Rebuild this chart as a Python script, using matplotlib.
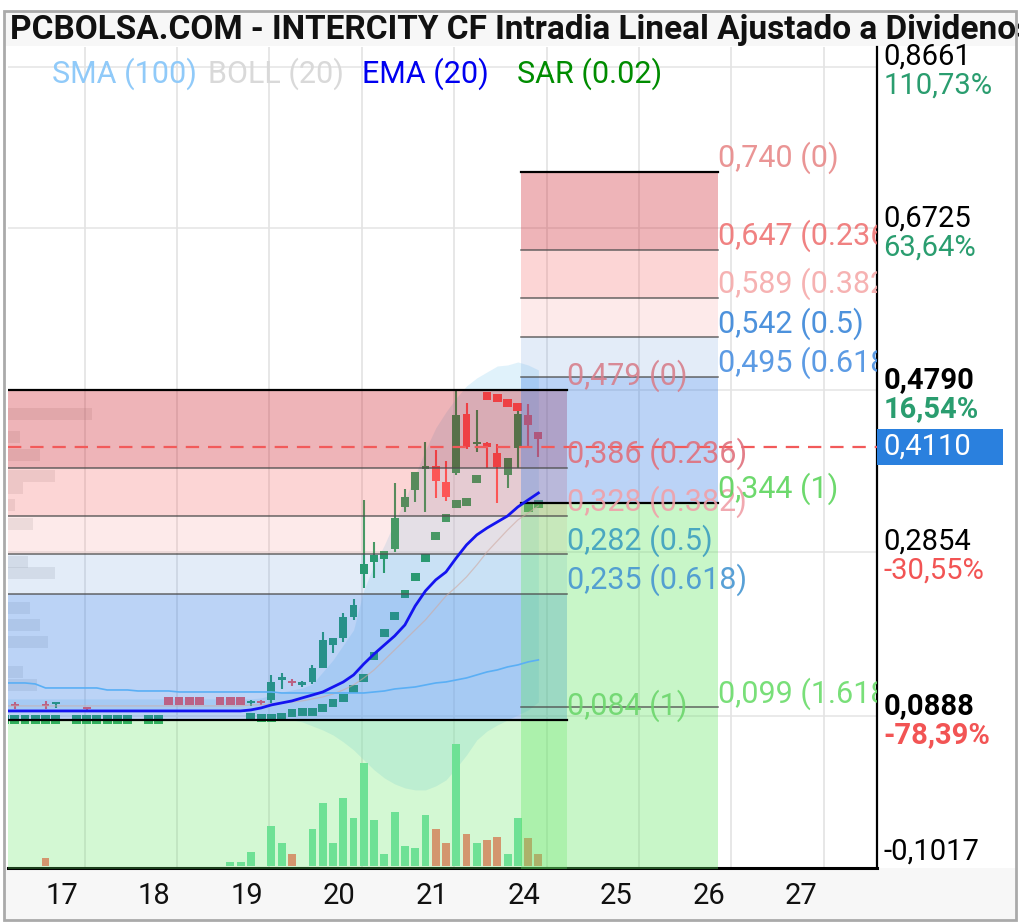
import matplotlib
matplotlib.use("Agg")
import matplotlib.pyplot as plt
import numpy as np
from matplotlib.patches import Rectangle
from matplotlib.transforms import Affine2D, blended_transform_factory

plt.rcParams["font.family"] = ["Roboto", "DejaVu Sans"]

nan = np.nan

TITLE = "PCBOLSA.COM - INTERCITY CF Intradia Lineal Ajustado a Dividenos"
DAY_LABELS = ["17", "18", "19", "20", "21", "24", "25", "26", "27"]
DAY_POS = {"16": -1, "17": 0, "18": 1, "19": 2, "20": 3, "21": 4, "24": 5}

# intraday bars, one per hour (9:00 .. 17:00)
BAR_DAYS = ["16"] * 6 + ["17"] * 9 + ["18"] * 9 + ["19"] * 9 + ["20"] * 9 + ["21"] * 9 + ["24"] * 2
BAR_HOURS = list(range(12, 18)) + list(range(9, 18)) * 5 + [9, 10]

OPEN = ([nan, 0.103, nan, nan, 0.103, 0.103]
        + [nan, nan, 0.099, nan, nan, nan, nan, nan, nan]
        + [nan, nan, 0.0935, 0.0935, nan, nan, 0.0935, 0.093, 0.093]
        + [0.104, 0.105, 0.108, 0.132, 0.131, 0.126, 0.129, 0.146, 0.174]
        + [0.182, 0.207, 0.259, 0.273, 0.277, 0.289, 0.339, 0.359, 0.384]
        + [0.388, 0.369, 0.380, 0.450, 0.414, 0.416, 0.404, 0.377, 0.410]
        + [0.449, 0.429])
HIGH = ([nan, 0.105, nan, nan, 0.106, 0.104]
        + [nan, nan, 0.099, nan, nan, nan, nan, nan, nan]
        + [nan, nan, 0.094, 0.094, nan, nan, 0.094, 0.094, 0.094]
        + [0.108, 0.108, 0.138, 0.140, 0.133, 0.131, 0.150, 0.189, 0.182]
        + [0.212, 0.229, 0.347, 0.297, 0.286, 0.368, 0.360, 0.381, 0.417]
        + [0.407, 0.394, 0.479, 0.463, 0.455, 0.417, 0.414, 0.398, 0.461]
        + [0.462, 0.429])
LOW = ([nan, 0.097, nan, nan, 0.097, 0.098]
       + [nan, nan, 0.096, nan, nan, nan, nan, nan, nan]
       + [nan, nan, 0.093, 0.093, nan, nan, 0.093, 0.093, 0.093]
       + [0.100, 0.102, 0.104, 0.121, 0.125, 0.123, 0.127, 0.146, 0.164]
       + [0.177, 0.204, 0.242, 0.254, 0.260, 0.285, 0.333, 0.345, 0.333]
       + [0.350, 0.346, 0.377, 0.408, 0.405, 0.386, 0.344, 0.362, 0.386]
       + [0.411, 0.399])
CLOSE = ([nan, 0.100, nan, nan, 0.100, 0.103]
         + [nan, nan, 0.097, nan, nan, nan, nan, nan, nan]
         + [nan, nan, 0.093, 0.093, nan, nan, 0.093, 0.093, 0.093]
         + [0.105, 0.104, 0.129, 0.134, 0.128, 0.128, 0.146, 0.180, 0.182]
         + [0.207, 0.222, 0.271, 0.281, 0.286, 0.326, 0.351, 0.381, 0.388]
         + [0.370, 0.351, 0.449, 0.411, 0.417, 0.411, 0.387, 0.398, 0.450]
         + [0.437, 0.420])
VOLUME = ([0, 0, 0, 0, 8000, 0]
          + [0] * 9
          + [0, 0, 0, 0, 0, 0, 0, 4000, 4000]
          + [14000, 0, 40000, 23000, 12000, 0, 37000, 63000, 23000]
          + [68000, 48000, 103000, 46000, 12000, 54000, 20000, 18000, 51000]
          + [37000, 23000, 122000, 32000, 23000, 26000, 29000, 12000, 48000]
          + [28000, 12000])

SAR = ([0.084] * 6
       + [nan, 0.084, 0.084, 0.084, 0.084, 0.084, 0.084, nan, 0.084]
       + [0.084, 0.1066, 0.1066, 0.1066, 0.1066, nan, 0.1066, 0.1066, 0.1066]
       + [0.0874, 0.0862, 0.0862, 0.0874, 0.0922, 0.0934, 0.0934, 0.0982, 0.1042]
       + [0.1101, 0.1209, 0.1341, 0.1604, 0.188, 0.2083, 0.2347, 0.255, 0.2778]
       + [0.3041, 0.3257, 0.3425, 0.3449, 0.3724, 0.4718, 0.4694, 0.4634, 0.4586]
       + [0.3377, 0.3425])
EMA20 = ([0.0946] * 24
         + [0.0958, 0.0982, 0.1018, 0.1042, 0.1066, 0.1102, 0.1137, 0.1173, 0.1233]
         + [0.1293, 0.1377, 0.1509, 0.1628, 0.1736, 0.1844, 0.1976, 0.2203, 0.2383]
         + [0.2515, 0.2610, 0.2778, 0.2934, 0.3054, 0.3137, 0.3209, 0.3281, 0.3389]
         + [0.3473, 0.3556])
SMA100 = ([0.1281, 0.1281, 0.1281, 0.1269, 0.1221, 0.1221]
          + [0.1221, 0.1221, 0.1221, 0.1221, 0.1197, 0.1197, 0.1197, 0.1185, 0.1185]
          + [0.1185, 0.1185, 0.1173, 0.1173, 0.1173, 0.1173, 0.1173, 0.1173, 0.1173]
          + [0.1173, 0.1173, 0.1173, 0.1161, 0.1161, 0.1161, 0.1161, 0.1161, 0.1161]
          + [0.1161, 0.1161, 0.1161, 0.1173, 0.1185, 0.1209, 0.1221, 0.1233, 0.1257]
          + [0.1281, 0.1293, 0.1317, 0.1341, 0.1377, 0.1413, 0.1437, 0.1473, 0.1497]
          + [0.1533, 0.1557])
BOLL_MID = ([0.1006] * 24
            + [0.1018, 0.1018, 0.103, 0.1042, 0.1054, 0.1066, 0.109, 0.1114, 0.1149]
            + [0.1197, 0.1257, 0.1341, 0.1437, 0.1557, 0.1676, 0.1796, 0.1916, 0.2036]
            + [0.2179, 0.2323, 0.2431, 0.2551, 0.2694, 0.285, 0.2982, 0.3113, 0.3233]
            + [0.3317, 0.3401])
BOLL_UP = ([0.109] * 24
           + [0.109, 0.1102, 0.1137, 0.1173, 0.1197, 0.1221, 0.1269, 0.1413, 0.1557]
           + [0.1736, 0.1916, 0.2395, 0.2694, 0.2934, 0.3209, 0.3473, 0.3772, 0.4071]
           + [0.4335, 0.4527, 0.4694, 0.4838, 0.4934, 0.5006, 0.5077, 0.5089, 0.5125]
           + [0.5089, 0.503])
BOLL_LOW = ([0.0934] * 24
            + [0.0922, 0.091, 0.0886, 0.0862, 0.0838, 0.0814, 0.0766, 0.0718, 0.0658]
            + [0.0575, 0.0479, 0.0359, 0.024, 0.0143, 0.0072, 0.0024, 0.0, 0.0]
            + [0.0048, 0.012, 0.0263, 0.0419, 0.0599, 0.0706, 0.0778, 0.0838, 0.0898]
            + [0.0958, 0.1054])

# volume profile on the left edge
VP_PRICE = [0.4503, 0.4227, 0.4012, 0.376, 0.3616, 0.3413, 0.3185,
            0.273, 0.2598, 0.2179, 0.1976, 0.1772, 0.1413, 0.1257]
VP_SIZE = [84000, 12000, 32000, 47000, 15000, 7000, 25000,
           20000, 47000, 22000, 32000, 40000, 15000, 29000]

LEFT_FIB = [0.479, 0.386, 0.328, 0.282, 0.235, 0.084]
LEFT_RATIOS = ["0", "0.236", "0.382", "0.5", "0.618", "1"]
RIGHT_FIB = [0.740, 0.647, 0.589, 0.542, 0.495, 0.344, 0.099]
RIGHT_RATIOS = ["0", "0.236", "0.382", "0.5", "0.618", "1", "1.618"]

LAST_PRICE = 0.4110
RIGHT_TICKS = [0.8661, 0.6725, 0.4790, 0.2854, 0.0888]
RIGHT_PCT = ["110,73%", "63,64%", "16,54%", "-30,55%", "-78,39%"]
BOLD_TICKS = [0.4790, 0.0888]
BOTTOM_TICK = -0.1017

# styles
GREEN = "#1e9a5a"
RED = "#ff5252"
VOL_GREEN = "#72e0a9"
VOL_RED = "#ff7872"
BAND_COLORS = [((205 / 255, 30 / 255, 40 / 255), 0.33),
               ((245 / 255, 100 / 255, 100 / 255), 0.27),
               ((245 / 255, 150 / 255, 150 / 255), 0.20),
               ((100 / 255, 150 / 255, 220 / 255), 0.18),
               ((60 / 255, 130 / 255, 230 / 255), 0.35)]
FIB_GREEN = (100 / 255, 230 / 255, 100 / 255)
LEFT_LABEL_COLORS = ["#d77f8c", "#e0707c", "#f0a0a8", "#3c9fc0", "#4696d2", "#6cd66c"]
RIGHT_LABEL_COLORS = ["#e88a8a", "#ef7474", "#f5aaaa", "#3a86d9", "#4a90e2", "#5dd55d", "#6bdc6b"]

W, H = 1020, 924


def px(x, y):
    return x / W, 1 - y / H


def fmt(v, nd):
    return f"{v:.{nd}f}".replace(".", ",")


fig = plt.figure(figsize=(W / 100, H / 100), dpi=100, facecolor="white")
fig.patches.append(Rectangle(px(4, 46), 1012 / W, 34 / H, transform=fig.transFigure,
                             facecolor="#f7f7f7", edgecolor="none", zorder=-2))
fig.patches.append(Rectangle(px(4, 920), 1012 / W, 52 / H, transform=fig.transFigure,
                             facecolor="#f7f7f7", edgecolor="none", zorder=-2))
fig.patches.append(Rectangle(px(4, 920), 1012 / W, 909 / H, transform=fig.transFigure,
                             facecolor="none", edgecolor="#aaaaaa", linewidth=2, zorder=10))

ax = fig.add_axes([8 / W, (H - 868) / H, 869 / W, 821 / H])
ax.set_facecolor("white")

x = np.array([DAY_POS[d] + (h - 9 + 0.4) / 9 for d, h in zip(BAR_DAYS, BAR_HOURS)])
o, hi, lo, c = map(np.array, (OPEN, HIGH, LOW, CLOSE))
up = c >= o

XMIN, XMAX = -0.584, 8.82
YMIN, YMAX = -0.0935, 0.8897

# grid
for v in RIGHT_TICKS:
    ax.axhline(v, color="#e6e6e6", lw=1.2, zorder=0.5)
for k in range(len(DAY_LABELS)):
    ax.axvline(k + 0.245, color="#e3e3e3", lw=1.2, zorder=0.5)

# volume profile
vp_trans = blended_transform_factory(Affine2D().scale(1 / 869000, 1) + ax.transAxes, ax.transData)
ax.barh(VP_PRICE, VP_SIZE, height=0.015, left=0, color="#9e9e9e", alpha=0.2,
        transform=vp_trans, zorder=1)

# volume bars
vol_trans = blended_transform_factory(ax.transData, Affine2D().scale(1, 1 / 821000) + ax.transAxes)
vol = np.array(VOLUME)
vol_colors = [VOL_RED if (np.isfinite(oo) and cc < oo) else VOL_GREEN for oo, cc in zip(o, c)]
ax.bar(x, vol, width=0.085, bottom=2000, color=vol_colors, transform=vol_trans, zorder=1.5)

# bollinger bands
ax.fill_between(x, BOLL_LOW, BOLL_UP, color="#a8daf5", alpha=0.35, lw=0, zorder=1.2)

# candles
ok = np.isfinite(o)
cols = np.where(up, GREEN, RED)
ax.vlines(x[ok], lo[ok], hi[ok], colors=cols[ok], lw=1.5, zorder=2)
body_h = np.maximum(np.abs(c - o), 0.0028)
ax.bar(x[ok], body_h[ok], bottom=np.minimum(o, c)[ok], width=0.085, color=cols[ok], zorder=2.1)

# parabolic SAR
sar = np.array(SAR)
ref = np.where(np.isfinite(c), c, np.array(EMA20))
sar_cols = np.where(sar > ref, RED, GREEN)
fin = np.isfinite(sar)
ax.scatter(x[fin], sar[fin], marker="s", s=40, c=sar_cols[fin], lw=0, zorder=2.2)


def fib_zone(levels, ratios, x0, x1, green_alpha, label_colors):
    for i in range(5):
        col, a = BAND_COLORS[i]
        ax.fill_between([x0, x1], levels[i + 1], levels[i], color=col, alpha=a, lw=0, zorder=3)
    ax.fill_between([x0, x1], YMIN - 0.1, levels[5], color=FIB_GREEN, alpha=green_alpha, lw=0, zorder=3)
    for i, lvl in enumerate(levels):
        heavy = i in (0, 5)
        ax.plot([x0, x1], [lvl, lvl], color="black" if heavy else "#4d4d4d",
                lw=1.6 if heavy else 1.1, alpha=1 if heavy else 0.85, zorder=3.5)
        ax.annotate(f"{fmt(lvl, 3)} ({ratios[i]})", xy=(x1, lvl), xytext=(0, 3.5),
                    textcoords="offset points", ha="left", va="baseline", fontsize=22,
                    color=label_colors[i], alpha=0.9, clip_on=True, zorder=5)


fib_zone(LEFT_FIB, LEFT_RATIOS, XMIN - 1, 5.465, 0.28, LEFT_LABEL_COLORS)
fib_zone(RIGHT_FIB, RIGHT_RATIOS, 4.965, 7.10, 0.35, RIGHT_LABEL_COLORS)

# indicator lines
ax.plot(x, BOLL_MID, color="#cfa9a0", lw=0.9, alpha=0.6, zorder=3.6)
ax.plot(x, SMA100, color="#5aaff5", lw=1.2, zorder=4)
ax.plot(x, EMA20, color="#1414f0", lw=2.0, zorder=4.2)
ax.axhline(LAST_PRICE, color="#f25a5a", lw=1.6, linestyle=(0, (6, 4)), zorder=4.5)

ax.set_xlim(XMIN, XMAX)
ax.set_ylim(YMIN, YMAX)
ax.set_xticks(range(len(DAY_LABELS)))
ax.set_xticklabels(DAY_LABELS)
ax.tick_params(axis="x", length=0, pad=10, labelsize=21, colors="#111111")
ax.set_yticks([])
for side in ("left", "top"):
    ax.spines[side].set_visible(False)
ax.spines["right"].set_linewidth(1.6)
ax.spines["bottom"].set_linewidth(2.2)
ax.spines["right"].set_color("black")
ax.spines["bottom"].set_color("black")

# right price scale
for v, pct in zip(RIGHT_TICKS, RIGHT_PCT):
    bold = v in BOLD_TICKS
    ax.annotate(fmt(v, 4), xy=(1, v), xycoords=("axes fraction", "data"), xytext=(4.5, 1.5),
                textcoords="offset points", va="baseline", fontsize=21,
                fontweight="bold" if bold else "normal", color="black", annotation_clip=False)
    ax.annotate(pct, xy=(1, v), xycoords=("axes fraction", "data"), xytext=(4.5, -19.5),
                textcoords="offset points", va="baseline", fontsize=21,
                fontweight="bold" if bold else "normal",
                color="#2a9d6f" if pct[0] != "-" else "#f25454", annotation_clip=False)
ax.annotate(fmt(BOTTOM_TICK, 4), xy=(1, 0), xycoords="axes fraction", xytext=(4.5, 1.5),
            textcoords="offset points", va="bottom", fontsize=21, color="black",
            annotation_clip=False)

price_trans = blended_transform_factory(ax.transAxes, ax.transData)
ax.add_patch(Rectangle((1.0, LAST_PRICE - 0.0213), 126 / 869, 0.0426, transform=price_trans,
                       facecolor="#2a80de", edgecolor="none", clip_on=False, zorder=6))
ax.annotate(fmt(LAST_PRICE, 4), xy=(1, LAST_PRICE), xycoords=("axes fraction", "data"),
            xytext=(4.5, 0), textcoords="offset points", va="center", fontsize=21,
            color="white", annotation_clip=False, zorder=7)

# legend and title
legend = [("SMA (100)", "#90caf9", 52), ("BOLL (20)", "#d9d9d9", 208),
          ("EMA (20)", "#0000f0", 362), ("SAR (0.02)", "#008c00", 517)]
for text, col, lx in legend:
    fig.text(*px(lx, 74), text, color=col, fontsize=22, va="center", ha="left")

fig.text(*px(10, 30), TITLE, fontsize=24, fontweight="bold", va="center", ha="left", color="#111111")

fig.savefig("out.png", dpi=100, facecolor="white")
